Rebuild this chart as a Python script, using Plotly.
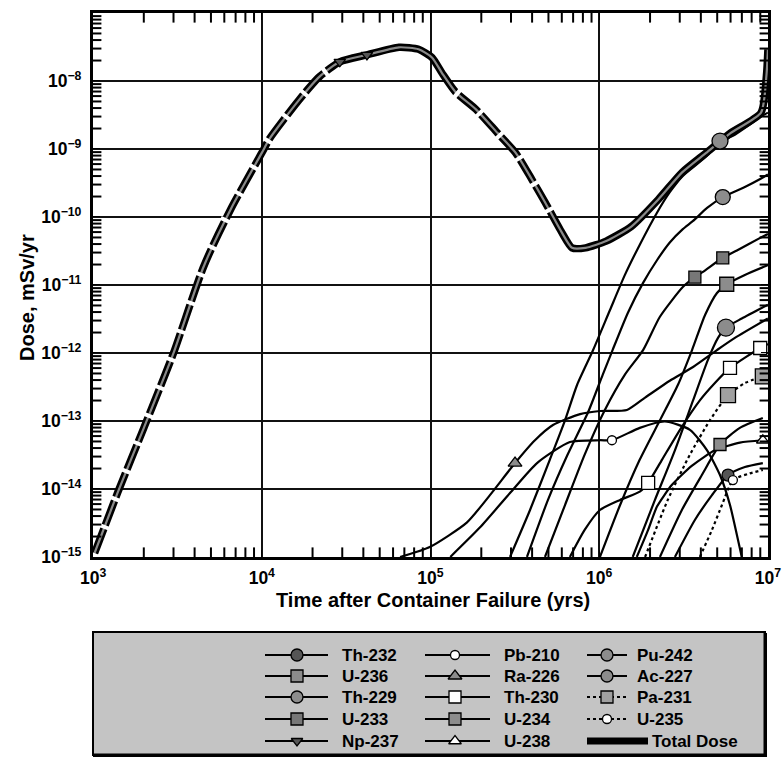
import math
import plotly.graph_objects as go

W, H = 783, 767

# ---------------------------------------------------------------
# Dose history per nuclide: time after container failure (yr) and
# annual dose (mSv/yr)
# ---------------------------------------------------------------
total_t = [1.0e3, 1.4e3, 2.0e3, 3.0e3, 4.5e3, 6.6e3, 1.0e4, 1.11e4, 1.66e4, 2.2e4,
           2.9e4, 4.2e4, 6.5e4, 8.5e4, 1.02e5, 1.17e5, 1.41e5, 1.86e5, 2.5e5, 3.2e5,
           4.0e5, 4.8e5, 6.0e5, 6.9e5, 8.3e5, 1.1e6, 1.55e6, 2.24e6, 3.1e6, 4.3e6,
           6.0e6, 9.1e6, 9.8e6, 1.0e7]
total_d = [1.0e-15, 8.9e-15, 7.9e-14, 1.0e-12, 1.8e-11, 1.35e-10, 8.7e-10, 1.4e-9, 5.2e-9, 1.15e-8,
           1.9e-8, 2.4e-8, 3.1e-8, 2.9e-8, 2.2e-8, 1.3e-8, 6.8e-9, 3.8e-9, 1.7e-9, 8.7e-10,
           3.5e-10, 1.6e-10, 5.9e-11, 3.5e-11, 3.5e-11, 4.4e-11, 7.2e-11, 1.8e-10, 4.5e-10, 8.7e-10,
           1.7e-9, 3.4e-9, 1.2e-8, 2.9e-8]

np237_t = [1.0e3, 1.4e3, 2.0e3, 3.0e3, 4.5e3, 6.6e3, 1.0e4, 1.11e4, 1.66e4, 2.2e4,
           2.9e4, 4.2e4, 6.5e4, 8.5e4, 1.02e5, 1.17e5, 1.41e5, 1.86e5, 2.5e5, 3.2e5,
           4.0e5, 4.8e5, 5.7e5]
np237_d = [1.0e-15, 8.9e-15, 7.9e-14, 1.0e-12, 1.8e-11, 1.35e-10, 8.7e-10, 1.4e-9, 5.2e-9, 1.15e-8,
           1.9e-8, 2.4e-8, 3.1e-8, 2.9e-8, 2.2e-8, 1.3e-8, 6.8e-9, 3.8e-9, 1.7e-9, 8.7e-10,
           3.5e-10, 1.6e-10, 6.5e-11]

pu242_t = [2.96e5, 3.89e5, 5.1e5, 6.27e5, 7.4e5, 9.2e5, 1.16e6, 1.42e6, 1.74e6, 2.2e6,
           2.62e6, 3.13e6, 4.36e6, 5.2e6, 6.2e6, 9.33e6, 1.0e7]
pu242_d = [1.0e-15, 4.9e-15, 2.7e-14, 1.02e-13, 3.4e-13, 1.1e-12, 4.3e-12, 1.4e-11, 3.9e-11, 1.15e-10,
           2.3e-10, 4.0e-10, 7.9e-10, 1.3e-9, 1.55e-9, 3.1e-9, 3.4e-9]

th229_t = [3.73e5, 4.97e5, 6.5e5, 8.6e5, 1.05e6, 1.2e6, 1.48e6, 1.82e6, 2.2e6, 2.62e6,
           3.13e6, 3.6e6, 4.36e6, 5.4e6, 7.3e6, 9.0e6, 1.0e7]
th229_d = [1.0e-15, 6.9e-15, 3.2e-14, 1.35e-13, 4.8e-13, 1.1e-12, 3.9e-12, 1.07e-11, 2.3e-11, 4.2e-11,
           6.6e-11, 8.7e-11, 1.35e-10, 1.95e-10, 2.75e-10, 3.6e-10, 4.2e-10]

u233_t = [4.77e5, 6.27e5, 8.2e5, 1.08e6, 1.42e6, 1.82e6, 2.29e6, 3.13e6, 3.69e6, 4.12e6,
          5.4e6, 6.55e6, 9.0e6, 1.0e7]
u233_d = [1.0e-15, 5.8e-15, 3.2e-14, 1.45e-13, 4.8e-13, 1.1e-12, 3.4e-12, 9.3e-12, 1.3e-11, 1.55e-11,
          2.5e-11, 3.2e-11, 4.9e-11, 5.6e-11]

u234_t = [1.01e6, 1.33e6, 1.74e6, 2.29e6, 2.93e6, 3.55e6, 4.24e6, 4.99e6, 5.7e6, 7.3e6, 1.0e7]
u234_d = [1.0e-15, 5.8e-15, 2.7e-14, 1.02e-13, 3.4e-13, 1.1e-12, 3.6e-12, 7.6e-12, 1.02e-11, 1.4e-11, 1.95e-11]

ac227_t = [1.58e6, 2.14e6, 2.81e6, 3.6e6, 4.41e6, 5.06e6, 5.64e6, 7.0e6, 1.0e7]
ac227_d = [1.0e-15, 6.9e-15, 3.7e-14, 2.0e-13, 7.9e-13, 1.66e-12, 2.35e-12, 3.2e-12, 5.1e-12]

ra226_t = [6.6e4, 9.9e4, 1.64e5, 2.25e5, 3.17e5, 4.16e5, 5.32e5, 7.7e5, 1.01e6, 1.46e6,
           1.87e6, 2.62e6, 3.6e6, 4.99e6, 6.37e6, 1.0e7]
ra226_d = [1.0e-15, 1.4e-15, 3.2e-15, 8.1e-15, 2.4e-14, 5.2e-14, 8.7e-14, 1.26e-13, 1.4e-13, 1.45e-13,
           2.2e-13, 3.9e-13, 6.2e-13, 1.1e-12, 1.66e-12, 3.2e-12]

pb210_t = [1.31e5, 1.96e5, 2.96e5, 4.28e5, 6.7e5, 1.01e6, 1.19e6, 1.74e6, 2.45e6, 3.45e6,
           4.36e6, 5.2e6, 5.96e6, 6.55e6, 7.0e6]
pb210_d = [1.0e-15, 2.7e-15, 8.7e-15, 2.4e-14, 4.9e-14, 5.2e-14, 5.2e-14, 7.9e-14, 9.8e-14, 7.4e-14,
           3.7e-14, 1.6e-14, 5.8e-15, 2.1e-15, 1.0e-15]

th230_t = [6.7e5, 8.2e5, 1.01e6, 1.33e6, 1.74e6, 1.95e6, 2.36e6, 3.01e6, 3.95e6, 4.85e6,
           5.96e6, 9.0e6, 1.0e7]
th230_d = [1.0e-15, 2.5e-15, 4.9e-15, 6.9e-15, 9.1e-15, 1.23e-14, 2.7e-14, 7.4e-14, 2.0e-13, 3.6e-13,
           6.0e-13, 1.18e-12, 1.35e-12]

pa231_t = [1.87e6, 2.55e6, 3.45e6, 4.53e6, 5.8e6, 7.3e6, 9.33e6]
pa231_d = [1.0e-15, 6.9e-15, 3.2e-14, 1.02e-13, 2.4e-13, 3.6e-13, 4.5e-13]

u236_t = [2.29e6, 3.09e6, 4.06e6, 5.2e6, 6.82e6, 9.33e6]
u236_d = [1.0e-15, 4.9e-15, 1.6e-14, 4.5e-14, 7.9e-14, 1.1e-13]

th232_t = [2.81e6, 3.69e6, 4.66e6, 5.8e6, 7.3e6, 9.33e6]
th232_d = [1.0e-15, 3.5e-15, 8.1e-15, 1.6e-14, 2.1e-14, 2.4e-14]

u235_t = [3.95e6, 4.66e6, 5.34e6, 6.2e6, 7.6e6, 9.33e6]
u235_d = [1.0e-15, 2.5e-15, 5.8e-15, 1.35e-14, 1.66e-14, 1.9e-14]

u238_t = [1.67e6, 1.95e6, 2.2e6, 2.7e6, 3.55e6, 4.85e6, 6.82e6, 9.33e6]
u238_d = [1.0e-15, 2.5e-15, 5.5e-15, 1.15e-14, 2.2e-14, 3.7e-14, 4.8e-14, 5.2e-14]

# axis extents in decades (log10 of yr and mSv/yr)
x_decades = [3, 7]
y_decades = [-15, -7]

# ---------------------------------------------------------------
# Styles: marker symbol, marker fill, marker size, line dash,
# and which points carry a marker
# ---------------------------------------------------------------
GRAY = "#8c8c8c"
DARK = "#555555"
series = {
    "Th-232": dict(t=th232_t, d=th232_d, sym="circle", fill=DARK, size=12, dash="solid", marks=[3]),
    "U-236": dict(t=u236_t, d=u236_d, sym="square", fill=GRAY, size=12, dash="solid", marks=[3]),
    "Th-229": dict(t=th229_t, d=th229_d, sym="circle", fill=GRAY, size=15, dash="solid", marks=[13]),
    "U-233": dict(t=u233_t, d=u233_d, sym="square", fill="#777777", size=12, dash="solid", marks=[8, 10]),
    "Np-237": dict(t=np237_t, d=np237_d, sym="triangle-down", fill=DARK, size=10, dash="solid", marks=[10, 11]),
    "Pb-210": dict(t=pb210_t, d=pb210_d, sym="circle", fill="white", size=9, dash="solid", marks=[6]),
    "Ra-226": dict(t=ra226_t, d=ra226_d, sym="triangle-up", fill=GRAY, size=12, dash="solid", marks=[4]),
    "Th-230": dict(t=th230_t, d=th230_d, sym="square", fill="white", size=13, dash="solid", marks=[5, 10, 11]),
    "U-234": dict(t=u234_t, d=u234_d, sym="square", fill=GRAY, size=14, dash="solid", marks=[8]),
    "U-238": dict(t=u238_t, d=u238_d, sym="triangle-up", fill="white", size=11, dash="solid", marks=[7]),
    "Pu-242": dict(t=pu242_t, d=pu242_d, sym="circle", fill=GRAY, size=16, dash="solid", marks=[13]),
    "Ac-227": dict(t=ac227_t, d=ac227_d, sym="circle", fill=GRAY, size=17, dash="solid", marks=[6]),
    "Pa-231": dict(t=pa231_t, d=pa231_d, sym="square", fill="#a0a0a0", size=15, dash="dot", marks=[4, 6]),
    "U-235": dict(t=u235_t, d=u235_d, sym="circle", fill="white", size=9, dash="dot", marks=[3]),
}

# plot frame in page pixels
PL, PR, PT, PB = 93, 768, 13, 557

fig = go.Figure()

# nuclide curves (thin black lines)
for name, s in series.items():
    fig.add_trace(go.Scatter(
        x=s["t"], y=s["d"], mode="lines", name=name,
        line=dict(color="black", width=2.2, dash=s["dash"], shape="spline", smoothing=0.6),
        hoverinfo="skip"))

# total dose: thick black band with a grey core
fig.add_trace(go.Scatter(x=total_t, y=total_d, mode="lines", name="Total Dose",
                         line=dict(color="black", width=7.5, shape="spline", smoothing=0.6),
                         hoverinfo="skip"))
fig.add_trace(go.Scatter(x=total_t, y=total_d, mode="lines", showlegend=False,
                         line=dict(color="#8a8a8a", width=2.2, shape="spline", smoothing=0.6),
                         hoverinfo="skip"))
# Np-237 dominated stretches are broken into dashes
for a, b in [(0, 11), (16, 23)]:
    fig.add_trace(go.Scatter(x=total_t[a:b], y=total_d[a:b], mode="lines", showlegend=False,
                             line=dict(color="white", width=10, dash="4px,26px",
                                       shape="spline", smoothing=0.6),
                             hoverinfo="skip"))

# markers on top
for name, s in series.items():
    fig.add_trace(go.Scatter(
        x=[s["t"][i] for i in s["marks"]], y=[s["d"][i] for i in s["marks"]],
        mode="markers", showlegend=False,
        marker=dict(symbol=s["sym"], size=s["size"], color=s["fill"],
                    line=dict(color="black", width=1.3)),
        hoverinfo="skip"))

# ---------------------------------------------------------------
# Minor tick marks (2..9 of every decade) inside all four sides,
# drawn as short bar markers in a page-pixel overlay frame
# ---------------------------------------------------------------
sx = (PR - PL) / (x_decades[1] - x_decades[0])
sy = (PB - PT) / (y_decades[1] - y_decades[0])
vx, vy, hx, hy = [], [], [], []
for p in range(x_decades[0], x_decades[1]):
    for k in range(2, 10):
        px = PL + (math.log10(k) + p - x_decades[0]) * sx
        vx += [px, px]
        vy += [PB - 4, PT + 4]
for p in range(y_decades[0], y_decades[1]):
    for k in range(2, 10):
        py = PB - (math.log10(k) + p - y_decades[0]) * sy
        hx += [PL + 3.5, PR - 3.5]
        hy += [py, py]
fig.add_trace(go.Scatter(x=vx, y=vy, xaxis="x3", yaxis="y3", mode="markers",
                         marker=dict(symbol="line-ns", size=8, color="black",
                                     line=dict(color="black", width=2)),
                         showlegend=False, hoverinfo="skip", cliponaxis=False))
fig.add_trace(go.Scatter(x=hx, y=hy, xaxis="x3", yaxis="y3", mode="markers",
                         marker=dict(symbol="line-ew", size=7, color="black",
                                     line=dict(color="black", width=2)),
                         showlegend=False, hoverinfo="skip", cliponaxis=False))

AX_FONT = dict(family="Liberation Sans, Arial, sans-serif", size=14, color="black", weight="bold")
common_axis = dict(
    type="log", showgrid=True, gridcolor="#111111", gridwidth=1.6,
    showline=True, linecolor="black", linewidth=2.5, mirror="allticks",
    tickmode="linear", dtick=1, exponentformat="power",
    ticks="inside", ticklen=7, tickwidth=1.4, tickcolor="black",
    tickfont=AX_FONT, zeroline=False, automargin=False,
)
fig.update_layout(
    width=W, height=H, margin=dict(l=0, r=0, t=0, b=0, autoexpand=False),
    paper_bgcolor="white", plot_bgcolor="rgba(0,0,0,0)", showlegend=False,
    xaxis=dict(common_axis, range=[x_decades[0] - 0.0005, x_decades[1] + 0.0005],
               tick0=x_decades[0], domain=[PL / W, PR / W], anchor="y", ticklabelstandoff=4),
    yaxis=dict(common_axis, range=[y_decades[0] - 0.0005, y_decades[1] - 0.004],
               tick0=y_decades[0], domain=[(H - PB) / H, (H - PT) / H], anchor="x",
               ticklabelstandoff=6),
    # frame used to lay out the legend box below the plot
    xaxis2=dict(domain=[92 / W, 767 / W], range=[92, 767], anchor="y2",
                visible=False, fixedrange=True),
    yaxis2=dict(domain=[10 / H, 136 / H], range=[757, 631], anchor="x2",
                visible=False, fixedrange=True),
    # page-pixel overlay frame
    xaxis3=dict(domain=[0, 1], range=[0, W], anchor="y3", visible=False, fixedrange=True),
    yaxis3=dict(domain=[0, 1], range=[H, 0], anchor="x3", visible=False, fixedrange=True),
)

TITLE_FONT = dict(family="Liberation Sans, Arial, sans-serif", size=20, color="black")
fig.add_annotation(text="<b>Time after Container Failure (yrs)</b>", xref="paper", yref="paper",
                   x=433 / W, y=1 - 600 / H, showarrow=False, font=TITLE_FONT,
                   xanchor="center", yanchor="middle")
fig.add_annotation(text="<b>Dose, mSv/yr</b>", xref="paper", yref="paper",
                   x=27 / W, y=1 - 298 / H, showarrow=False, font=TITLE_FONT, textangle=-90,
                   xanchor="center", yanchor="middle")

# ---------------------------------------------------------------
# Legend box
# ---------------------------------------------------------------
fig.add_shape(type="rect", xref="x2", yref="y2", x0=93, x1=765, y0=632, y1=755,
              fillcolor="#c4c4c4", line=dict(color="black", width=2), layer="below")
fig.add_shape(type="line", xref="x2", yref="y2", x0=93, x1=767, y0=755.5, y1=755.5,
              line=dict(color="black", width=4))
fig.add_shape(type="line", xref="x2", yref="y2", x0=765.5, x1=765.5, y0=633, y1=757,
              line=dict(color="black", width=4))

legend_cols = [
    (["Th-232", "U-236", "Th-229", "U-233", "Np-237"], 265, 328, 297, 340),
    (["Pb-210", "Ra-226", "Th-230", "U-234", "U-238"], 425, 490, 455, 502),
    (["Pu-242", "Ac-227", "Pa-231", "U-235", "Total Dose"], 587, 627, 607, 635),
]
rows = [655, 676, 697, 719, 741]
LEG_FONT = dict(family="Liberation Sans, Arial, sans-serif", size=17, color="black")
for names, lx0, lx1, mx, txt_x in legend_cols:
    for name, ry in zip(names, rows):
        if name == "Total Dose":
            fig.add_trace(go.Scatter(x=[lx0, 648], y=[ry, ry], xaxis="x2", yaxis="y2",
                                     mode="lines", line=dict(color="black", width=7),
                                     showlegend=False, hoverinfo="skip"))
            fig.add_annotation(text="<b>Total Dose</b>", xref="x2", yref="y2", x=650, y=ry,
                               showarrow=False, xanchor="left", yanchor="middle", font=LEG_FONT)
            continue
        s = series[name]
        fig.add_trace(go.Scatter(x=[lx0, lx1], y=[ry, ry], xaxis="x2", yaxis="y2",
                                 mode="lines", line=dict(color="black", width=2, dash=s["dash"]),
                                 showlegend=False, hoverinfo="skip"))
        fig.add_trace(go.Scatter(x=[mx], y=[ry], xaxis="x2", yaxis="y2", mode="markers",
                                 marker=dict(symbol=s["sym"], size=min(s["size"], 12), color=s["fill"],
                                             line=dict(color="black", width=1.3)),
                                 showlegend=False, hoverinfo="skip"))
        fig.add_annotation(text="<b>%s</b>" % name, xref="x2", yref="y2", x=txt_x, y=ry,
                           showarrow=False, xanchor="left", yanchor="middle", font=LEG_FONT)

fig.write_html("out.html")
